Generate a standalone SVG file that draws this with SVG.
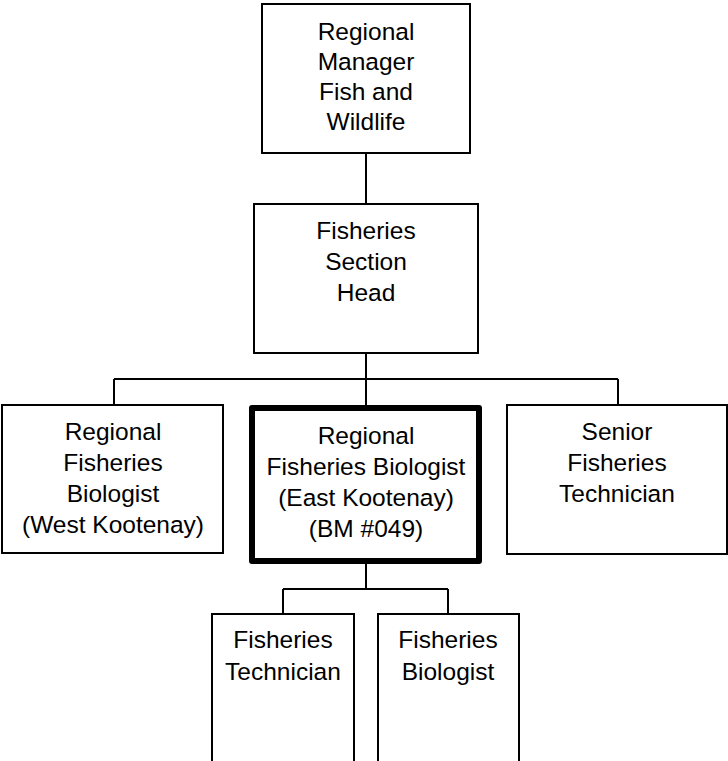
<svg xmlns="http://www.w3.org/2000/svg" width="728" height="761" viewBox="0 0 728 761">
<style>
  .box { fill: #ffffff; stroke: #000000; stroke-width: 2; }
  .thick { fill: #ffffff; stroke: #000000; stroke-width: 6; stroke-linejoin: round; }
  .conn { fill: none; stroke: #000000; stroke-width: 2; }
  text { font-family: "Liberation Sans", Arial, sans-serif; font-size: 24.5px; fill: #000000; text-anchor: middle; }
</style>
<rect x="0" y="0" width="728" height="761" fill="#ffffff"/>
<g id="connectors">
  <line class="conn" x1="366" y1="153" x2="366" y2="204"/>
  <line class="conn" x1="366" y1="353" x2="366" y2="405"/>
  <line class="conn" x1="114" y1="379" x2="618" y2="379"/>
  <line class="conn" x1="114" y1="379" x2="114" y2="405"/>
  <line class="conn" x1="618" y1="379" x2="618" y2="405"/>
  <line class="conn" x1="366" y1="564" x2="366" y2="589"/>
  <line class="conn" x1="283" y1="589" x2="448" y2="589"/>
  <line class="conn" x1="283" y1="589" x2="283" y2="614"/>
  <line class="conn" x1="448" y1="589" x2="448" y2="614"/>
</g>
<g id="regional-manager">
  <rect class="box" x="262" y="4" width="208" height="149"/>
  <text x="366" y="40">Regional</text>
  <text x="366" y="70">Manager</text>
  <text x="366" y="100">Fish and</text>
  <text x="366" y="130">Wildlife</text>
</g>
<g id="section-head">
  <rect class="box" x="254" y="204" width="224" height="149"/>
  <text x="366" y="239">Fisheries</text>
  <text x="366" y="270">Section</text>
  <text x="366" y="301">Head</text>
</g>
<g id="west-kootenay">
  <rect class="box" x="2" y="405" width="221" height="148"/>
  <text x="113" y="440">Regional</text>
  <text x="113" y="471">Fisheries</text>
  <text x="113" y="502">Biologist</text>
  <text x="113" y="533">(West Kootenay)</text>
</g>
<g id="east-kootenay">
  <rect class="thick" x="252" y="408" width="227" height="153"/>
  <text x="366" y="444">Regional</text>
  <text x="366" y="475">Fisheries Biologist</text>
  <text x="366" y="506">(East Kootenay)</text>
  <text x="366" y="537">(BM #049)</text>
</g>
<g id="senior-technician">
  <rect class="box" x="507" y="405" width="220" height="149"/>
  <text x="617" y="440">Senior</text>
  <text x="617" y="471">Fisheries</text>
  <text x="617" y="502">Technician</text>
</g>
<g id="fisheries-technician">
  <rect class="box" x="212" y="614" width="142" height="160"/>
  <text x="283" y="648">Fisheries</text>
  <text x="283" y="680">Technician</text>
</g>
<g id="fisheries-biologist">
  <rect class="box" x="378" y="614" width="141" height="160"/>
  <text x="448" y="648">Fisheries</text>
  <text x="448" y="680">Biologist</text>
</g>
</svg>
